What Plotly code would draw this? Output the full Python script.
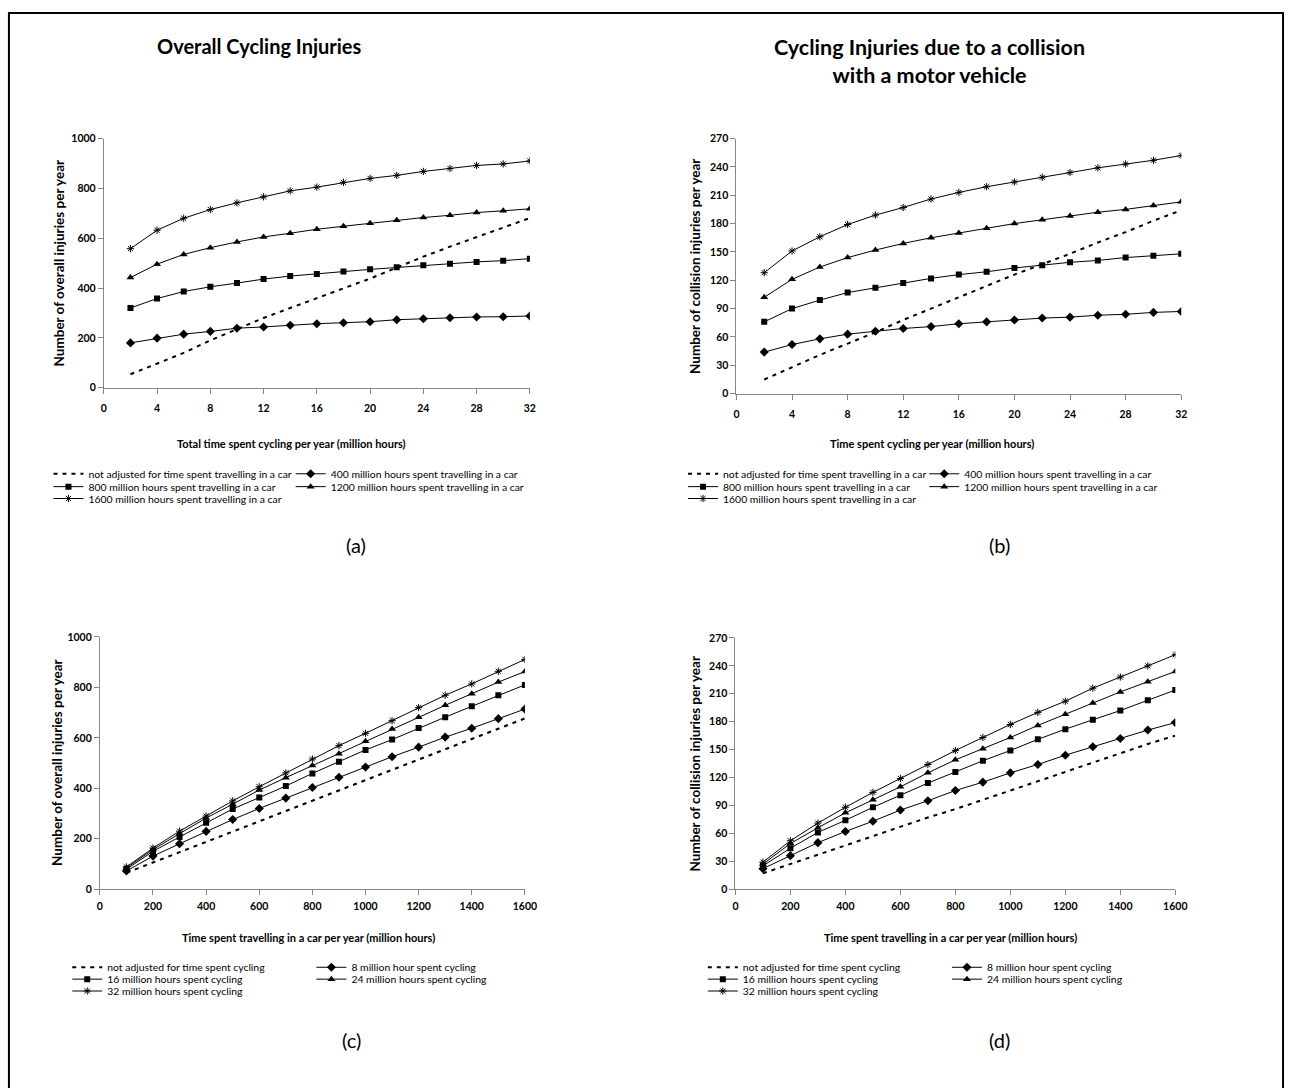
import plotly.graph_objects as go

W, H = 1298, 1088

# ---------------- data ----------------
cycling_hours = [2, 4, 6, 8, 10, 12, 14, 16, 18, 20, 22, 24, 26, 28, 30, 32]
car_hours = [100, 200, 300, 400, 500, 600, 700, 800, 900, 1000, 1100, 1200, 1300, 1400, 1500, 1600]

# (a) overall injuries vs cycling time
a_unadjusted = [54, 97, 140, 190, 236, 280, 320, 360, 400, 438, 482, 526, 566, 605, 645, 681]
a_car400 = [180, 199, 215, 226, 239, 244, 251, 257, 261, 265, 273, 277, 281, 284, 285, 288]
a_car800 = [320, 358, 386, 405, 420, 436, 448, 456, 466, 475, 483, 491, 498, 505, 510, 518]
a_car1200 = [442, 496, 535, 562, 585, 605, 620, 636, 648, 660, 672, 683, 692, 703, 710, 718]
a_car1600 = [558, 632, 680, 715, 742, 766, 790, 805, 824, 840, 852, 868, 880, 892, 898, 910]

# (b) collision injuries vs cycling time
b_unadjusted = [15, 28, 41, 53, 65, 78, 90, 102, 114, 126, 137, 148, 160, 171, 183, 194]
b_car400 = [44, 52, 58, 63, 66, 69, 71, 74, 76, 78, 80, 81, 83, 84, 86, 87]
b_car800 = [76, 90, 99, 107, 112, 117, 122, 126, 129, 133, 136, 139, 141, 144, 146, 148]
b_car1200 = [102, 121, 134, 144, 152, 159, 165, 170, 175, 180, 184, 188, 192, 195, 199, 203]
b_car1600 = [128, 151, 166, 179, 189, 197, 206, 213, 219, 224, 229, 234, 239, 243, 247, 252]

# (c) overall injuries vs car time
c_unadjusted = [65, 106, 147, 188, 228, 268, 309, 350, 390, 431, 472, 513, 554, 595, 636, 677]
c_cyc8 = [72, 131, 180, 229, 276, 320, 361, 403, 444, 484, 525, 563, 603, 638, 676, 714]
c_cyc16 = [79, 150, 207, 263, 318, 363, 409, 459, 505, 552, 593, 639, 682, 725, 769, 810]
c_cyc24 = [84, 157, 220, 282, 337, 393, 442, 490, 537, 586, 635, 682, 729, 775, 821, 863]
c_cyc32 = [88, 163, 230, 290, 350, 406, 461, 516, 569, 618, 668, 720, 769, 814, 864, 911]

# (d) collision injuries vs car time
d_unadjusted = [17, 27, 37, 47, 57, 67, 77, 86, 96, 106, 116, 126, 136, 146, 156, 165]
d_cyc8 = [22, 36, 50, 62, 73, 85, 95, 106, 115, 125, 134, 144, 153, 162, 171, 179]
d_cyc16 = [25, 44, 61, 74, 88, 101, 114, 126, 138, 149, 161, 172, 182, 192, 203, 214]
d_cyc24 = [27, 49, 66, 82, 96, 110, 125, 139, 151, 163, 176, 188, 200, 212, 223, 234]
d_cyc32 = [29, 52, 71, 88, 104, 119, 134, 149, 163, 177, 190, 202, 216, 228, 240, 252]

top_names = ["not adjusted for time spent travelling in a car",
             "400 million hours spent travelling in a car",
             "800 million hours spent travelling in a car",
             "1200 million hours spent travelling in a car",
             "1600 million hours spent travelling in a car"]
bottom_names = ["not adjusted for time spent cycling",
                "8 million hour spent cycling",
                "16 million hours spent cycling",
                "24 million hours spent cycling",
                "32 million hours spent cycling"]

FONT = "Lato"


def px(xp):
    return xp / W


def py(yp):
    return 1 - yp / H


styles = [
    dict(mode="lines", line=dict(color="black", width=2, dash="4px,5px")),
    dict(mode="lines+markers", line=dict(color="black", width=1),
         marker=dict(symbol="diamond", size=7, color="black")),
    dict(mode="lines+markers", line=dict(color="black", width=1),
         marker=dict(symbol="square", size=6, color="black")),
    dict(mode="lines+markers", line=dict(color="black", width=1),
         marker=dict(symbol="triangle-up", size=7, color="black")),
    dict(mode="lines+markers", line=dict(color="black", width=1),
         marker=dict(symbol="asterisk-open", size=6, color="black",
                     line=dict(color="black", width=1))),
]

fig = go.Figure()

panels = [
    ("x", "y", cycling_hours, [a_unadjusted, a_car400, a_car800, a_car1200, a_car1600], top_names),
    ("x2", "y2", cycling_hours, [b_unadjusted, b_car400, b_car800, b_car1200, b_car1600], top_names),
    ("x3", "y3", car_hours, [c_unadjusted, c_cyc8, c_cyc16, c_cyc24, c_cyc32], bottom_names),
    ("x4", "y4", car_hours, [d_unadjusted, d_cyc8, d_cyc16, d_cyc24, d_cyc32], bottom_names),
]

# legend layout: (text-left x of col1, col2), row centres
legend_pos = [
    ((86, 331), (473, 486, 498)),
    ((728, 972), (473, 486, 498)),
    ((105, 352), (972, 984, 996)),
    ((748, 995), (972, 984, 996)),
]
# item index -> (col, row)
slot = [(0, 0), (1, 0), (0, 1), (1, 1), (0, 2)]

legends = {}
lid = 0
for p, (xa, ya, xs, series, names) in enumerate(panels):
    cols, rows = legend_pos[p]
    for i, (vals, name) in enumerate(zip(series, names)):
        lid += 1
        key = "legend" if lid == 1 else f"legend{lid}"
        c, r = slot[i]
        legends[key] = dict(
            x=px(cols[c] - 40), xanchor="left",
            y=py(rows[r]), yanchor="middle",
            bgcolor="rgba(0,0,0,0)", borderwidth=0,
            font=dict(family=FONT, size=10.4, color="black"),
            tracegroupgap=0,
        )
        fig.add_trace(go.Scatter(x=xs, y=vals, name=name, xaxis=xa, yaxis=ya,
                                 legend=key, showlegend=True, **styles[i]))

axis_common = dict(showgrid=False, zeroline=False, showline=True, linecolor="#868686",
                   linewidth=1, ticks="outside", ticklen=5, tickcolor="#868686",
                   tickfont=dict(family=FONT, size=10.5, color="black", weight="bold"))

fig.update_layout(
    width=W, height=H,
    margin=dict(l=0, r=0, t=0, b=0),
    paper_bgcolor="white", plot_bgcolor="white",
    **legends,
    xaxis=dict(domain=[px(102), px(533)], range=[0, 32], tickvals=[0, 4, 8, 12, 16, 20, 24, 28, 32],
               anchor="y", ticklabelstandoff=6, **axis_common),
    yaxis=dict(domain=[py(386), py(134)], range=[0, 1000], dtick=200, anchor="x", **axis_common),
    xaxis2=dict(domain=[px(742), px(1192)], range=[0, 32], tickvals=[0, 4, 8, 12, 16, 20, 24, 28, 32],
                anchor="y2", ticklabelstandoff=6, **axis_common),
    yaxis2=dict(domain=[py(392), py(134)], range=[0, 270], dtick=30, anchor="x2", **axis_common),
    xaxis3=dict(domain=[px(98), px(528)], range=[0, 1600], dtick=200,
                anchor="y3", ticklabelstandoff=2, **axis_common),
    yaxis3=dict(domain=[py(893), py(638)], range=[0, 1000], dtick=200, anchor="x3", **axis_common),
    xaxis4=dict(domain=[px(741), px(1186)], range=[0, 1600], dtick=200,
                anchor="y4", ticklabelstandoff=2, **axis_common),
    yaxis4=dict(domain=[py(893), py(639)], range=[0, 270], dtick=30, anchor="x4", **axis_common),
)

ann = []


def text(t, xp, yp, size, bold=False, angle=0):
    ann.append(dict(text=t, x=px(xp), y=py(yp), xref="paper", yref="paper",
                    xanchor="center", yanchor="middle", showarrow=False, textangle=angle,
                    font=dict(family=FONT, size=size, color="black",
                              weight="bold" if bold else "normal")))


text("Overall Cycling Injuries", 259, 40, 20, bold=True)
text("Cycling Injuries due to a collision<br>with a motor vehicle", 937, 56, 21.5, bold=True)
text("(a)", 357, 545, 20)
text("(b)", 1008, 545, 20)
text("(c)", 353, 1046, 20)
text("(d)", 1008, 1046, 20)

text("Total time spent cycling per year (million hours)", 292, 442, 11, bold=True)
text("Time spent cycling per year (million hours)", 940, 442, 11, bold=True)
text("Time spent travelling in a car per year (million hours)", 309, 942, 11, bold=True)
text("Time spent travelling in a car per year (million hours)", 959, 942, 11, bold=True)

text("Number of overall injuries per year", 57, 260, 13.5, bold=True, angle=-90)
text("Number of collision injuries per year", 700, 263, 13.5, bold=True, angle=-90)
text("Number of overall injuries per year", 54, 765, 13.5, bold=True, angle=-90)
text("Number of collision injuries per year", 700, 766, 13.5, bold=True, angle=-90)

fig.update_layout(annotations=ann)

fig.add_shape(type="rect", xref="paper", yref="paper",
              x0=px(6), x1=px(1295), y0=-0.02, y1=py(7),
              line=dict(color="black", width=2), fillcolor="rgba(0,0,0,0)")

fig.write_html("out.html")
